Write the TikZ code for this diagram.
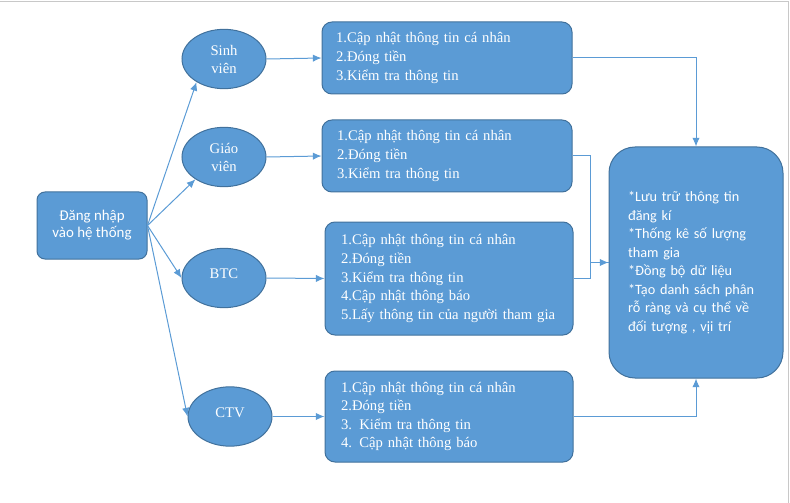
\documentclass[tikz,border=0pt]{standalone}
\usepackage{fontspec}
\setmainfont{Liberation Serif}
\newfontfamily\calfont{Carlito}
\usetikzlibrary{arrows.meta,shapes.geometric}
\definecolor{boxblue}{HTML}{5B9BD5}
\definecolor{boxline}{HTML}{41719C}
\definecolor{pageline}{HTML}{C8C8C8}
\tikzset{
	role/.style={ellipse, draw=boxline, fill=boxblue, line width=0.75pt, text=white,
		minimum width=63pt, minimum height=44.5pt, inner sep=0pt, align=center,
		font=\fontsize{11}{13.5}\selectfont},
	task/.style={rectangle, rounded corners=7.5pt, draw=boxline, fill=boxblue, line width=0.75pt,
		text=white, align=left, inner ysep=0pt, font=\fontsize{11}{13.9}\selectfont},
	link/.style={draw=boxblue, line width=0.75pt, -{Latex[length=6.5pt,width=5.5pt]}},
	plainlink/.style={draw=boxblue, line width=0.75pt},
}
\begin{document}
\begin{tikzpicture}[x=0.75pt, y=-0.75pt]
		%%%%% START %%%%%
		\useasboundingbox (0, 0) rectangle (790, 503);
		\draw[pageline, line width=0.75pt] (0, 2) -- (788, 2) -- (788, 503);
		
		\node[task, rounded corners=6pt, minimum width=82.5pt, minimum height=50.25pt, align=center, font=\calfont\fontsize{11.2}{13}\selectfont] (login) at (92, 225.5) {\raisebox{4.5pt}{\begin{tabular}{@{}c@{}}Đăng nhập\\vào hệ thống\end{tabular}}};
		
		\node[role] (sv) at (224, 59) {Sinh\\viên};
		\node[role] (gv) at (224, 157) {Giáo\\viên};
		\node[role] (btc) at (224, 278) {\raisebox{6pt}{BTC}};
		\node[role] (ctv) at (230, 416.5) {\raisebox{5.25pt}{CTV}};
		
		\node[task, inner xsep=10.5pt, text width=166.5pt, minimum height=54pt] (box1) at (447, 58) {1.Cập nhật thông tin cá nhân\\2.Đóng tiền\\3.Kiểm tra thông tin};
		\node[task, inner xsep=11.25pt, text width=165pt, minimum height=54pt] (box2) at (447, 156) {1.Cập nhật thông tin cá nhân\\2.Đóng tiền\\3.Kiểm tra thông tin};
		\node[task, inner xsep=12pt, text width=162pt, minimum height=84.75pt] (box3) at (449, 278.5) {1.Cập nhật thông tin cá nhân\\2.Đóng tiền\\3.Kiểm tra thông tin\\4.Cập nhật thông báo\\5.Lấy thông tin của người tham gia};
		\node[task, inner xsep=12pt, text width=162pt, minimum height=68.25pt] (box4) at (449, 416.5) {1.Cập nhật thông tin cá nhân\\2.Đóng tiền\\3. Kiểm tra thông tin\\4. Cập nhật thông báo};
		
		\node[task, rounded corners=19.5pt, inner xsep=14.25pt, text width=102pt, minimum height=173.25pt, font=\calfont\fontsize{10.7}{13.9}\selectfont] (store) at (696, 262.5) {*Lưu trữ thông tin\\đăng kí\\{}*Thống kê số lượng\\tham gia\\{}*Đồng bộ dữ liệu\\{}*Tạo danh sách phân\\rỗ ràng và cụ thể về\\đối tượng , vịi trí};
		
		\draw[link] (login.east) -- (sv.220);
		\draw[link] (login.east) -- (gv.218);
		\draw[link] (login.east) -- (btc.west);
		\draw[link] (login.east) -- (ctv.west);
		
		\draw[link] (sv.east) -- (box1.west);
		\draw[link] (gv.east) -- (box2.west);
		\draw[link] (btc.east) -- (box3.west);
		\draw[link] (ctv.east) -- (box4.west);
		
		\draw[link] (box1.east) -| (store.north);
		\draw[link] (box2.east) -- ++(18, 0) |- (store.west);
		\draw[plainlink] (box3.east) -- ++(17, 0) |- (store.west);
		\draw[link] (box4.east) -| (store.south);
		
		%%%%% END %%%%%
	\end{tikzpicture}
\end{document}
